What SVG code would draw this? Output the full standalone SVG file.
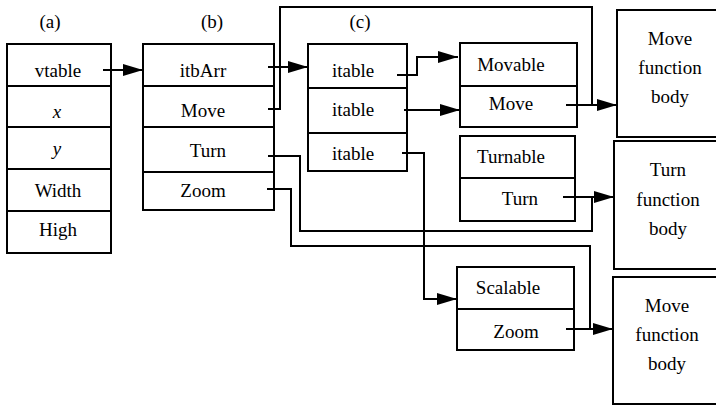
<svg xmlns="http://www.w3.org/2000/svg" width="716" height="405" viewBox="0 0 716 405" font-family="Liberation Serif, Times New Roman, serif">
<style>
.box{fill:#fff;stroke:#000;stroke-width:2}
.ln{fill:none;stroke:#000;stroke-width:2}
text.lbl{font-family:"Liberation Serif","Times New Roman",serif;font-size:19px;fill:#000;text-anchor:middle}
text.it{font-style:italic}
.c{stroke:#000;stroke-width:2;fill:none}
</style>
<defs>
<marker id="ah" markerUnits="userSpaceOnUse" markerWidth="20" markerHeight="12" refX="20" refY="6" orient="auto">
<path d="M0,0 L20,6 L0,12 z" fill="#000"/>
</marker>
</defs>
<rect width="716" height="405" fill="#fff"/>
<text class="lbl" x="50" y="28">(a)</text>
<text class="lbl" x="212" y="28">(b)</text>
<text class="lbl" x="360" y="28">(c)</text>

<g id="nodeA">
<rect class="box" x="7" y="44" width="104" height="209"/>
<path class="ln" d="M7,86 H111 M7,127 H111 M7,169 H111 M7,211 H111"/>
<text class="lbl" x="58" y="77">vtable</text>
<text class="lbl it" x="57" y="118">x</text>
<text class="lbl it" x="57" y="155">y</text>
<text class="lbl" x="58" y="197">Width</text>
<text class="lbl" x="58" y="236">High</text>
</g>

<g id="nodeB">
<rect class="box" x="143" y="44" width="131" height="166"/>
<path class="ln" d="M143,86 H274 M143,127 H274 M143,172 H274"/>
<text class="lbl" x="203" y="77">itbArr</text>
<text class="lbl" x="203" y="117">Move</text>
<text class="lbl" x="208" y="157">Turn</text>
<text class="lbl" x="203" y="197">Zoom</text>
</g>

<g id="nodeC">
<rect class="box" x="308" y="44" width="99" height="127"/>
<path class="ln" d="M308,88 H407 M308,133 H407"/>
<text class="lbl" x="353" y="77">itable</text>
<text class="lbl" x="353" y="116">itable</text>
<text class="lbl" x="353" y="160">itable</text>
</g>

<g id="movable">
<rect class="box" x="460" y="43" width="117" height="84"/>
<path class="ln" d="M460,86 H577"/>
<text class="lbl" x="511" y="71">Movable</text>
<text class="lbl" x="511" y="110">Move</text>
</g>

<g id="turnable">
<rect class="box" x="460" y="136" width="115" height="85"/>
<path class="ln" d="M460,178 H575"/>
<text class="lbl" x="511" y="163">Turnable</text>
<text class="lbl" x="520" y="205">Turn</text>
</g>

<g id="scalable">
<rect class="box" x="457" y="267" width="117" height="83"/>
<path class="ln" d="M457,309 H574"/>
<text class="lbl" x="508" y="294">Scalable</text>
<text class="lbl" x="516" y="338">Zoom</text>
</g>

<g id="moveBody">
<rect class="box" x="617" y="10" width="102" height="127"/>
<text class="lbl" x="670" y="45">Move</text>
<text class="lbl" x="670" y="74">function</text>
<text class="lbl" x="670" y="103">body</text>
</g>

<g id="turnBody">
<rect class="box" x="614" y="141" width="105" height="128"/>
<text class="lbl" x="668" y="176">Turn</text>
<text class="lbl" x="668" y="206">function</text>
<text class="lbl" x="668" y="235">body</text>
</g>

<g id="zoomBody">
<rect class="box" x="613" y="277" width="106" height="127"/>
<text class="lbl" x="667" y="312">Move</text>
<text class="lbl" x="667" y="341">function</text>
<text class="lbl" x="667" y="370">body</text>
</g>

<g id="connectors">
<path class="c" d="M103,70 H143" marker-end="url(#ah)"/>
<path class="c" d="M268,67 H308" marker-end="url(#ah)"/>
<path class="c" d="M268,109 H280 V7 H592 V105"/>
<path class="c" d="M566,105 H617" marker-end="url(#ah)"/>
<path class="c" d="M268,156 H300 V231 H592 V197"/>
<path class="c" d="M563,197 H614" marker-end="url(#ah)"/>
<path class="c" d="M267,189 H291 V246 H590 V329"/>
<path class="c" d="M566,329 H613" marker-end="url(#ah)"/>
<path class="c" d="M397,75 H417 V57 H458" marker-end="url(#ah)"/>
<path class="c" d="M404,110 H460" marker-end="url(#ah)"/>
<path class="c" d="M402,153 H424 V299 H457" marker-end="url(#ah)"/>
</g>
</svg>
